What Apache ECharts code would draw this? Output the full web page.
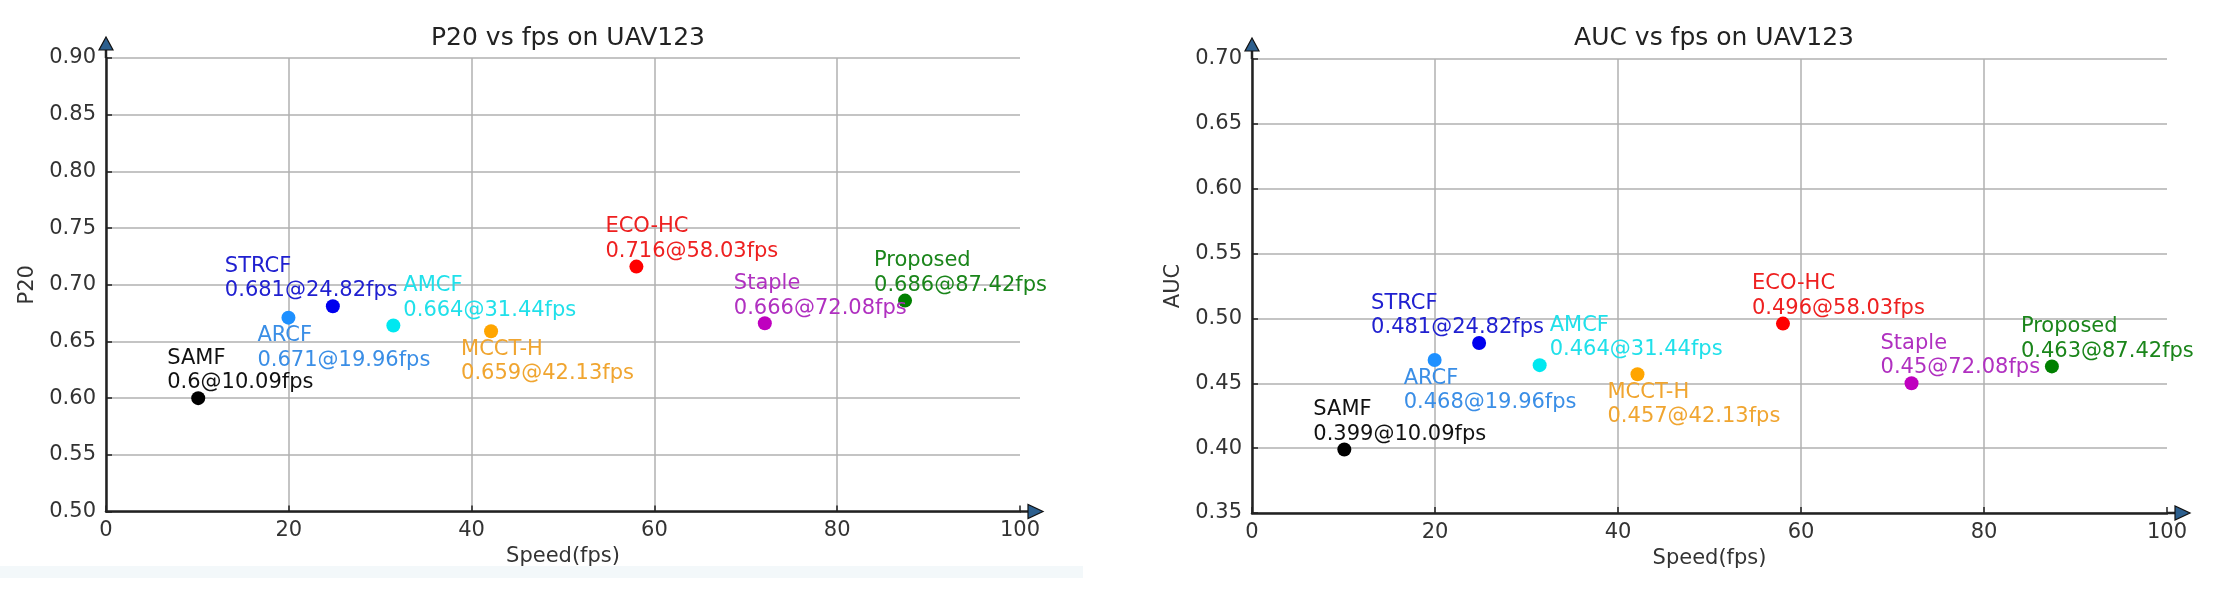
<!DOCTYPE html>
<html>
<head>
<meta charset="utf-8">
<script src="https://cdn.jsdelivr.net/npm/echarts@6/dist/echarts.min.js"></script>
<style>
html,body{margin:0;padding:0;background:#fff;}
#c{width:2218px;height:592px;}
</style>
</head>
<body>
<div id="c"></div>
<script>
// ---- data ----
const names = ['SAMF', 'ARCF', 'STRCF', 'AMCF', 'MCCT-H', 'ECO-HC', 'Staple', 'Proposed'];
const fps = [10.09, 19.96, 24.82, 31.44, 42.13, 58.03, 72.08, 87.42];
const p20 = [0.6, 0.671, 0.681, 0.664, 0.659, 0.716, 0.666, 0.686];
const auc = [0.399, 0.468, 0.481, 0.464, 0.457, 0.496, 0.45, 0.463];
const titles = ['P20 vs fps on UAV123', 'AUC vs fps on UAV123'];
const yNames = ['P20', 'AUC'];
const xName = 'Speed(fps)';

// ---- styles ----
const colors = {
  'SAMF': '#000000', 'ARCF': '#1e90ff', 'STRCF': '#0000ee', 'AMCF': '#00e8f0',
  'MCCT-H': '#ffa500', 'ECO-HC': '#ff0000', 'Staple': '#bf00bf', 'Proposed': '#008000'
};
const textColors = {
  'SAMF': '#111111', 'ARCF': '#3a8ee6', 'STRCF': '#2020d0', 'AMCF': '#20e0ea',
  'MCCT-H': '#f0a530', 'ECO-HC': '#ee2020', 'Staple': '#b030c0', 'Proposed': '#1a851a'
};
// label placement relative to the point (pixels)
const place = {
  'SAMF': {dx: -31, above: true}, 'ARCF': {dx: -31, above: false},
  'STRCF': {dx: -108, above: true}, 'AMCF': {dx: 10, above: true},
  'MCCT-H': {dx: -30, above: false}, 'ECO-HC': {dx: -31, above: true},
  'Staple': {dx: -31, above: true}, 'Proposed': {dx: -31, above: true}
};
const FONT = 'DejaVu Sans';

const grids = [
  {left: 106, top: 58, right: 2218 - 1020, bottom: 592 - 511.5},
  {left: 1252, top: 59, right: 2218 - 2167, bottom: 592 - 513}
];
const yRanges = [[0.5, 0.9], [0.35, 0.70]];
const centers = [563, 1709];

const chart = echarts.init(document.getElementById('c'), null, {renderer: 'canvas'});

function xAxis(gi) {
  return {
    type: 'value', gridIndex: gi, min: 0, max: 100, interval: 20,
    name: xName, nameLocation: 'middle', nameGap: 35,
    nameTextStyle: {fontFamily: FONT, fontSize: 21, color: '#333'},
    axisLine: {show: true, onZero: false, lineStyle: {color: '#222', width: 2.5}},
    axisTick: {show: true, inside: true, length: 6, lineStyle: {color: '#222', width: 1.5}},
    axisLabel: {fontFamily: FONT, fontSize: 21, color: '#333', margin: 9},
    splitLine: {show: true, showMaxLine: false, lineStyle: {color: '#b0b0b0', width: 1.5}}
  };
}
function yAxis(gi) {
  return {
    type: 'value', gridIndex: gi, min: yRanges[gi][0], max: yRanges[gi][1], interval: 0.05,
    name: yNames[gi], nameLocation: 'middle', nameGap: 68, nameRotate: 90,
    nameTextStyle: {fontFamily: FONT, fontSize: 21, color: '#333'},
    axisLine: {show: true, onZero: false, lineStyle: {color: '#222', width: 2.5}},
    axisTick: {show: true, inside: true, length: 6, lineStyle: {color: '#222', width: 1.5}},
    axisLabel: {fontFamily: FONT, fontSize: 21, color: '#333', margin: 10,
      formatter: v => v.toFixed(2)},
    splitLine: {show: true, lineStyle: {color: '#b0b0b0', width: 1.5}}
  };
}

const series = [];
[p20, auc].forEach((vals, gi) => {
  names.forEach((n, i) => {
    const p = place[n];
    series.push({
      type: 'scatter', name: n + gi, xAxisIndex: gi, yAxisIndex: gi,
      symbol: 'circle', symbolSize: 14,
      itemStyle: {color: colors[n], opacity: 1},
      data: [[fps[i], vals[i]]],
      label: {
        show: true, position: 'inside',
        align: 'left', verticalAlign: p.above ? 'bottom' : 'top',
        offset: [p.dx, p.above ? -3 : 6],
        formatter: n + '\n' + vals[i] + '@' + fps[i] + 'fps',
        fontFamily: FONT, fontSize: 21, lineHeight: 24.5,
        color: textColors[n], textBorderWidth: 0
      },
      emphasis: {disabled: true},
      z: 3
    });
  });
});

chart.setOption({
  backgroundColor: '#ffffff',
  animation: false,
  title: titles.map((t, gi) => ({
    text: t, left: centers[gi], top: 21, textAlign: 'center',
    textStyle: {fontFamily: FONT, fontSize: 25, fontWeight: 'normal', color: '#222'}
  })),
  grid: grids,
  xAxis: [xAxis(0), xAxis(1)],
  yAxis: [yAxis(0), yAxis(1)],
  series: series
});

// arrows at axis ends
const graphics = [{
  type: 'rect', shape: {x: 0, y: 566, width: 1083, height: 12},
  style: {fill: '#f3f8fa'}, z: -1, silent: true
}];
[0, 1].forEach(gi => {
  const o = chart.convertToPixel({gridIndex: gi}, [0, yRanges[gi][0]]);
  const t = chart.convertToPixel({gridIndex: gi}, [0, yRanges[gi][1]]);
  const r = chart.convertToPixel({gridIndex: gi}, [100, yRanges[gi][0]]);
  const ax = '#222', fill = '#2c5f8e';
  graphics.push({type: 'line', shape: {x1: t[0], y1: t[1], x2: t[0], y2: t[1] - 9}, style: {stroke: ax, lineWidth: 2.5}, z: 10});
  graphics.push({type: 'polygon', shape: {points: [[t[0] - 7, t[1] - 8], [t[0] + 7, t[1] - 8], [t[0], t[1] - 21]]},
    style: {fill: fill, stroke: '#111', lineWidth: 1.2}, z: 11});
  graphics.push({type: 'line', shape: {x1: r[0], y1: r[1], x2: r[0] + 9, y2: r[1]}, style: {stroke: ax, lineWidth: 2.5}, z: 10});
  graphics.push({type: 'polygon', shape: {points: [[r[0] + 8, r[1] - 7], [r[0] + 8, r[1] + 7], [r[0] + 23, r[1]]]},
    style: {fill: fill, stroke: '#111', lineWidth: 1.2}, z: 11});
});
chart.setOption({graphic: graphics});
</script>
</body>
</html>
